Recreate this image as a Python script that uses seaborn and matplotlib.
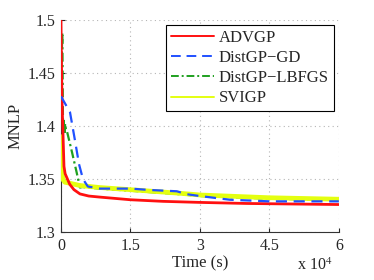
import matplotlib
matplotlib.use('Agg')
import matplotlib.pyplot as plt
import seaborn as sns
from matplotlib.ticker import FuncFormatter

# values (time in seconds)
advgp_t = [0, 100, 250, 430, 650, 900, 1300, 1900, 2800, 4100, 6000, 8400,
           15000, 22000, 30000, 40000, 50000, 60000]
advgp_y = [1.500, 1.460, 1.420, 1.394, 1.362, 1.355, 1.351, 1.345, 1.340, 1.336,
           1.334, 1.333, 1.3305, 1.329, 1.328, 1.327, 1.3265, 1.326]

gd_t = [0, 1950, 3000, 3900, 4750, 5800, 8400, 15000, 19200, 25000, 27200,
        30000, 36500, 45000, 60000]
gd_y = [1.428, 1.413, 1.387, 1.364, 1.350, 1.343, 1.341, 1.341, 1.3397, 1.3385,
        1.3357, 1.334, 1.3305, 1.329, 1.329]

lbfgs_t = [0, 300, 450, 600, 750, 900, 1100, 1300, 2400, 3400, 4100, 4600,
           8400, 15000, 25700, 30000, 45000, 60000]
lbfgs_y = [1.440, 1.488, 1.394, 1.405, 1.392, 1.402, 1.396, 1.395, 1.375, 1.356,
           1.342, 1.3425, 1.341, 1.339, 1.3357, 1.334, 1.3315, 1.3302]

svigp_t = [0, 200, 500, 860, 2000, 4000, 8400, 15000, 25700, 30000, 45000, 60000]
svigp_y = [1.390, 1.355, 1.349, 1.347, 1.346, 1.344, 1.342, 1.340, 1.3366, 1.335,
           1.3324, 1.331]

x_ticks = [0, 15000, 30000, 45000, 60000]
y_ticks = [1.3, 1.35, 1.4, 1.45, 1.5]

sns.set_style('ticks')
plt.rcParams['font.family'] = ['Liberation Serif', 'DejaVu Serif']
plt.rcParams['mathtext.fontset'] = 'stix'

fig = plt.figure(figsize=(3.74, 2.80), dpi=100)
ax = fig.add_axes([0.163, 0.171, 0.743, 0.758])

# draw green first so the thick yellow band covers its tail, as in the reference
sns.lineplot(x=lbfgs_t, y=lbfgs_y, ax=ax, color='#1fa01f', lw=1.6,
             label='DistGP\u2212LBFGS', zorder=2)
sns.lineplot(x=svigp_t, y=svigp_y, ax=ax, color='#e4ff10', lw=3.4, label='SVIGP', zorder=3)
sns.lineplot(x=advgp_t, y=advgp_y, ax=ax, color='#ff1010', lw=2.0, label='ADVGP', zorder=4)
sns.lineplot(x=gd_t, y=gd_y, ax=ax, color='#2050ff', lw=1.6, label='DistGP\u2212GD', zorder=5)
ax.lines[0].set_linestyle((0, (4, 1.5, 1, 1.5)))
ax.lines[3].set_linestyle((0, (5, 3)))

ax.set_xlim(0, 60000)
ax.set_ylim(1.3, 1.5)
ax.set_xticks(x_ticks)
ax.set_yticks(y_ticks)
ax.xaxis.set_major_formatter(FuncFormatter(lambda v, p: '%g' % (v / 1e4)))
ax.yaxis.set_major_formatter(FuncFormatter(lambda v, p: '%g' % round(v, 2)))
ax.tick_params(direction='in', labelsize=11.5, length=3, width=0.8, pad=4)
ax.grid(True, linestyle=(0, (1, 3)), color='#b5b5b5', lw=0.8)
for s in ['top', 'right']:
    ax.spines[s].set_visible(False)
for s in ['left', 'bottom']:
    ax.spines[s].set_linewidth(0.8)
    ax.spines[s].set_color('#333333')

ax.set_xlabel('Time (s)', fontsize=12, labelpad=1)
ax.set_ylabel('MNLP', fontsize=12, labelpad=3)
fig.text(0.795, 0.035, r'x 10$^4$', fontsize=11.5)

handles, labels = ax.get_legend_handles_labels()
order = [labels.index(n) for n in ['ADVGP', 'DistGP\u2212GD', 'DistGP\u2212LBFGS', 'SVIGP']]
leg = ax.legend([handles[i] for i in order], [labels[i] for i in order],
                loc='upper right', bbox_to_anchor=(0.982, 0.976), fontsize=12,
                frameon=True, fancybox=False, framealpha=1, edgecolor='black',
                handlelength=2.6, handletextpad=0.3, labelspacing=0.25,
                borderpad=0.3, borderaxespad=0)
leg.get_frame().set_linewidth(0.8)
for line in leg.get_lines():
    line.set_linewidth(1.4)

fig.savefig('out.png', dpi=100)
